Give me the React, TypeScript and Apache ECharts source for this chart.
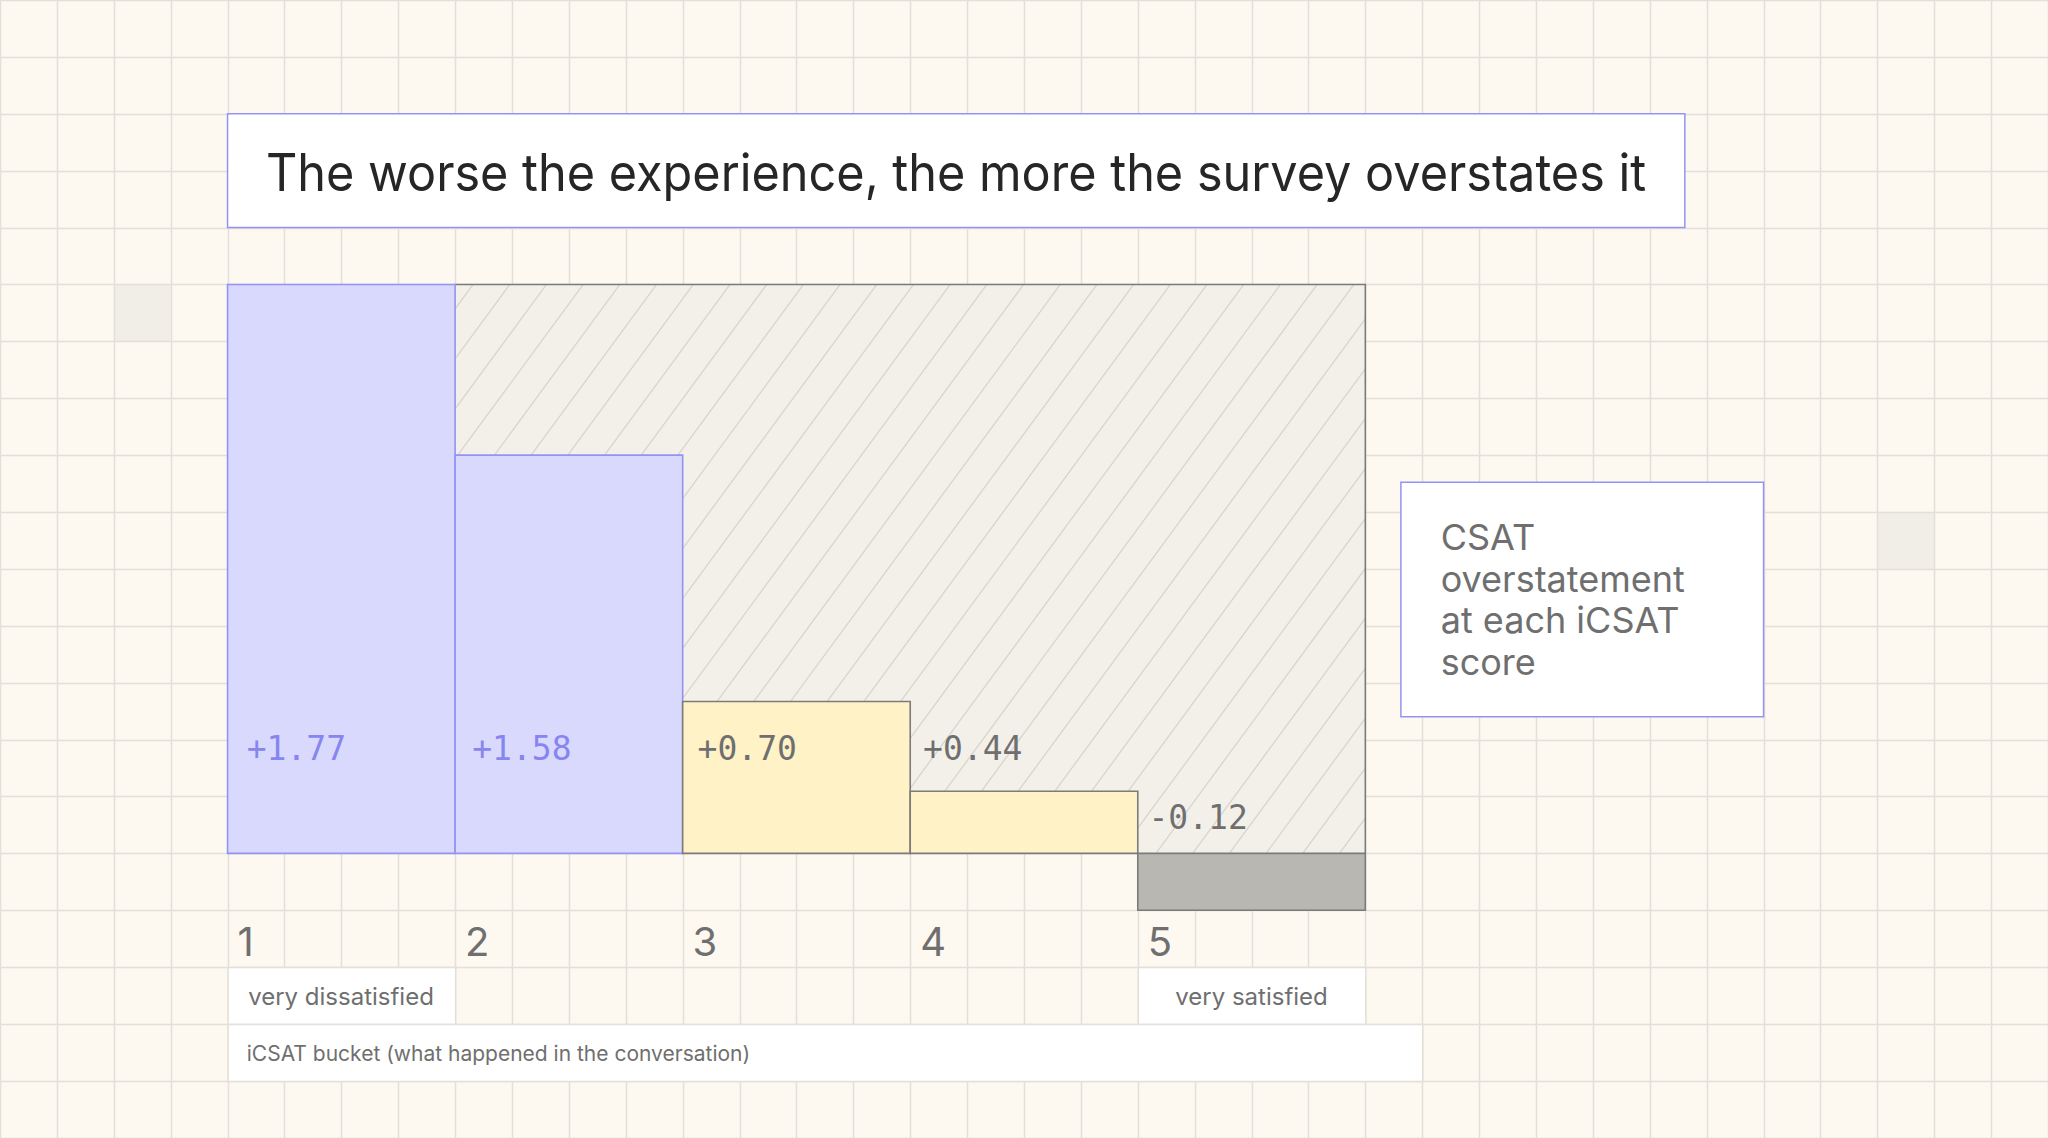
import React, { useEffect, useRef } from 'react';
import * as echarts from 'echarts';

// ---------- data ----------
const title = 'The worse the experience, the more the survey overstates it';
const buckets = ['1', '2', '3', '4', '5'];
const overstatement = [1.77, 1.58, 0.7, 0.44, -0.12];
// drawn bar heights, measured in background-grid cells
const barHeights = [10, 7, 2.67, 1.09, -1];
const endLabels = ['very dissatisfied', 'very satisfied'];
const xAxisTitle = 'iCSAT bucket (what happened in the conversation)';
const noteLines = ['CSAT', 'overstatement', 'at each iCSAT', 'score'];

// ---------- layout / style ----------
const W = 2048;
const H = 1138;
const S = W / 1440;
const CELL = 40 * S;
const SANS = 'Inter, "Noto Sans", sans-serif';
const MONO = '"DejaVu Sans Mono", "Liberation Mono", monospace';

const BG = '#fdf9f1';
const GRID = '#e3dfd9';
const LAV_FILL = '#d9d9fd';
const LAV_LINE = '#9393f6';
const LAV_TEXT = '#8686ee';
const YEL_FILL = '#fef2c6';
const GRAY_LINE = '#7b7b7b';
const GRAY_FILL = '#b8b7b2';
const GRAY_TEXT = '#6f6f6f';
const HATCH_FILL = '#f3f0e9';
const HATCH_LINE = '#d7d4ce';

function measure(text: string, font: string) {
  const c = document.createElement('canvas').getContext('2d')!;
  c.font = font;
  return c.measureText(text).width;
}

function buildOption() {
  const graphics: any[] = [];
  graphics.push({ type: 'rect', z: -20, silent: true, shape: { x: 0, y: 0, width: W, height: H }, style: { fill: BG } });
  // shaded cells
  [[80, 200], [1320, 360]].forEach(([cx, cy]) => {
    graphics.push({ type: 'rect', z: -19, silent: true, shape: { x: cx * S, y: cy * S, width: CELL, height: CELL }, style: { fill: '#f1eee7' } });
  });
  for (let i = 0; i <= 36; i++) {
    const x = Math.round(i * CELL) + 0.5;
    graphics.push({ type: 'line', z: -18, silent: true, shape: { x1: x, y1: 0, x2: x, y2: H }, style: { stroke: GRID, lineWidth: 1.5 } });
  }
  for (let j = 0; j <= 20; j++) {
    const y = Math.round(j * CELL) + 0.5;
    graphics.push({ type: 'line', z: -18, silent: true, shape: { x1: 0, y1: y, x2: W, y2: y }, style: { stroke: GRID, lineWidth: 1.5 } });
  }

  // title box
  const titleFontSize = 52;
  const titleScaleX = 0.935;
  const tw = measure(title, `400 ${titleFontSize}px Inter`) * titleScaleX;
  const pad = 27 * S;
  graphics.push({
    type: 'rect', z: -10, silent: true,
    shape: { x: 160 * S, y: 80 * S, width: tw + 2 * pad, height: 80 * S },
    style: { fill: '#ffffff', stroke: LAV_LINE, lineWidth: 1.5 },
  });
  graphics.push({
    type: 'text', z: -9, silent: true, x: 160 * S + pad, y: 120 * S + 1, scaleX: titleScaleX,
    style: { text: title, fill: '#262626', fontSize: titleFontSize, fontFamily: SANS, fontWeight: 400, align: 'left', verticalAlign: 'middle', textAlign: 'left', textVerticalAlign: 'middle' },
  });

  // label boxes under the axis
  const boxes = [
    [160, 680, 160, 40],
    [800, 680, 160, 40],
    [160, 720, 840, 40],
  ];
  boxes.forEach(([x, y, w, h]) => {
    graphics.push({ type: 'rect', z: -10, silent: true, shape: { x: x * S + 0.5, y: y * S + 0.5, width: w * S, height: h * S }, style: { fill: '#ffffff', stroke: GRID, lineWidth: 1.5 } });
  });
  graphics.push({
    type: 'text', z: -9, silent: true, x: 174.5 * S, y: 701 * S,
    style: { text: endLabels[0], fill: GRAY_TEXT, fontSize: 24, fontFamily: SANS, align: 'left', verticalAlign: 'middle', textAlign: 'left', textVerticalAlign: 'middle' },
  });
  graphics.push({
    type: 'text', z: -9, silent: true, x: 880 * S, y: 701 * S,
    style: { text: endLabels[1], fill: GRAY_TEXT, fontSize: 24, fontFamily: SANS, align: 'center', verticalAlign: 'middle', textAlign: 'center', textVerticalAlign: 'middle' },
  });
  graphics.push({
    type: 'text', z: -9, silent: true, x: 173.5 * S, y: 740.5 * S,
    style: { text: xAxisTitle, fill: GRAY_TEXT, fontSize: 21, fontFamily: SANS, align: 'left', verticalAlign: 'middle', textAlign: 'left', textVerticalAlign: 'middle' },
  });

  // note box
  graphics.push({
    type: 'rect', z: -10, silent: true,
    shape: { x: 985 * S, y: 339 * S, width: 255 * S, height: 165 * S },
    style: { fill: '#ffffff', stroke: LAV_LINE, lineWidth: 1.5 },
  });
  graphics.push({
    type: 'text', z: -9, silent: true, x: 1013 * S, y: 421.5 * S,
    style: { text: noteLines.join('\n'), fill: GRAY_TEXT, fontSize: 36, lineHeight: 41.7, fontFamily: SANS, align: 'left', verticalAlign: 'middle', textAlign: 'left', textVerticalAlign: 'middle' },
  });

  const hatchSeries = {
    type: 'custom',
    z: 1,
    silent: true,
    data: [[1, 4, barHeights[0]]],
    renderItem: (_p: any, api: any) => {
      const bw = api.size([1, 0])[0];
      const left = api.coord([api.value(0), 0])[0] - bw / 2;
      const right = api.coord([api.value(1), 0])[0] + bw / 2;
      const y0 = api.coord([0, 0])[1];
      const yTop = api.coord([0, api.value(2)])[1];
      const h = y0 - yTop;
      const children: any[] = [
        { type: 'rect', shape: { x: left, y: yTop, width: right - left, height: h }, style: { fill: HATCH_FILL } },
      ];
      const k = 0.735;
      const sp = 36.7;
      const phase = 18;
      const shift = k * h;
      const start = left + phase - Math.ceil(1 + shift / sp) * sp;
      for (let tx = start; tx < right + shift + sp; tx += sp) {
        // line from bottom (bx, y0) up to top (tx, yTop)
        const bx = tx - shift;
        const ta = (left - bx) / shift;
        const tb = (right - bx) / shift;
        const t0 = Math.max(0, Math.min(ta, tb));
        const t1 = Math.min(1, Math.max(ta, tb));
        if (t1 <= t0) continue;
        children.push({
          type: 'line',
          shape: { x1: bx + shift * t0, y1: y0 - h * t0, x2: bx + shift * t1, y2: y0 - h * t1 },
          style: { stroke: HATCH_LINE, lineWidth: 1.3 },
        });
      }
      children.push({
        type: 'polyline',
        shape: { points: [[left, yTop], [right, yTop], [right, y0]] },
        style: { stroke: GRAY_LINE, lineWidth: 1.6, fill: 'none' },
      });
      return { type: 'group', children };
    },
  };

  const barSeries = {
    type: 'custom',
    z: 3,
    silent: true,
    data: buckets.map((b, i) => [i, barHeights[i], overstatement[i]]),
    renderItem: (_p: any, api: any) => {
      const i = api.value(0);
      const h = api.value(1);
      const v = api.value(2);
      const bw = api.size([1, 0])[0];
      const [cx, y0] = api.coord([i, 0]);
      const yTop = api.coord([i, h])[1];
      const x = cx - bw / 2;
      const top = Math.min(y0, yTop);
      const height = Math.abs(y0 - yTop);
      let fill = YEL_FILL, stroke = GRAY_LINE, tcol = GRAY_TEXT;
      if (v >= 1) { fill = LAV_FILL; stroke = LAV_LINE; tcol = LAV_TEXT; }
      else if (v < 0) { fill = GRAY_FILL; stroke = GRAY_LINE; tcol = GRAY_TEXT; }
      const labelY = v >= 0 ? y0 - 74 * S : y0 - 25 * S;
      const labelX = x + (13.5 - 1.5 * i) * S;
      const sign = v >= 0 ? '+' : '-';
      return {
        type: 'group',
        children: [
          { type: 'rect', shape: { x, y: top, width: bw, height }, style: { fill, stroke, lineWidth: 1.6 } },
          {
            type: 'text', x: labelX, y: labelY,
            style: { text: sign + Math.abs(v).toFixed(2), fill: tcol, fontSize: 33, fontFamily: MONO, align: 'left', verticalAlign: 'middle' },
          },
          {
            type: 'text', x: x + 7 * S, y: y0 + 62 * S,
            style: { text: buckets[i], fill: GRAY_TEXT, fontSize: 40, fontFamily: SANS, align: 'left', verticalAlign: 'middle' },
          },
        ],
      };
    },
  };

  return {
    animation: false,
    backgroundColor: BG,
    grid: { left: 160 * S, top: 200 * S, width: 800 * S, height: 440 * S },
    xAxis: { type: 'category', data: buckets, boundaryGap: true, show: false },
    yAxis: { type: 'value', min: -1, max: 10, show: false },
    graphic: { elements: graphics },
    series: [hatchSeries, barSeries],
  };
}

export default function App() {
  const ref = useRef<HTMLDivElement>(null);
  useEffect(() => {
    document.body.style.margin = '0';
    const chart = echarts.init(ref.current!, undefined, { renderer: 'svg' });
    chart.setOption(buildOption() as any);
    return () => chart.dispose();
  }, []);
  return <div ref={ref} style={{ position: 'fixed', left: 0, top: 0, width: W, height: H }} />;
}
